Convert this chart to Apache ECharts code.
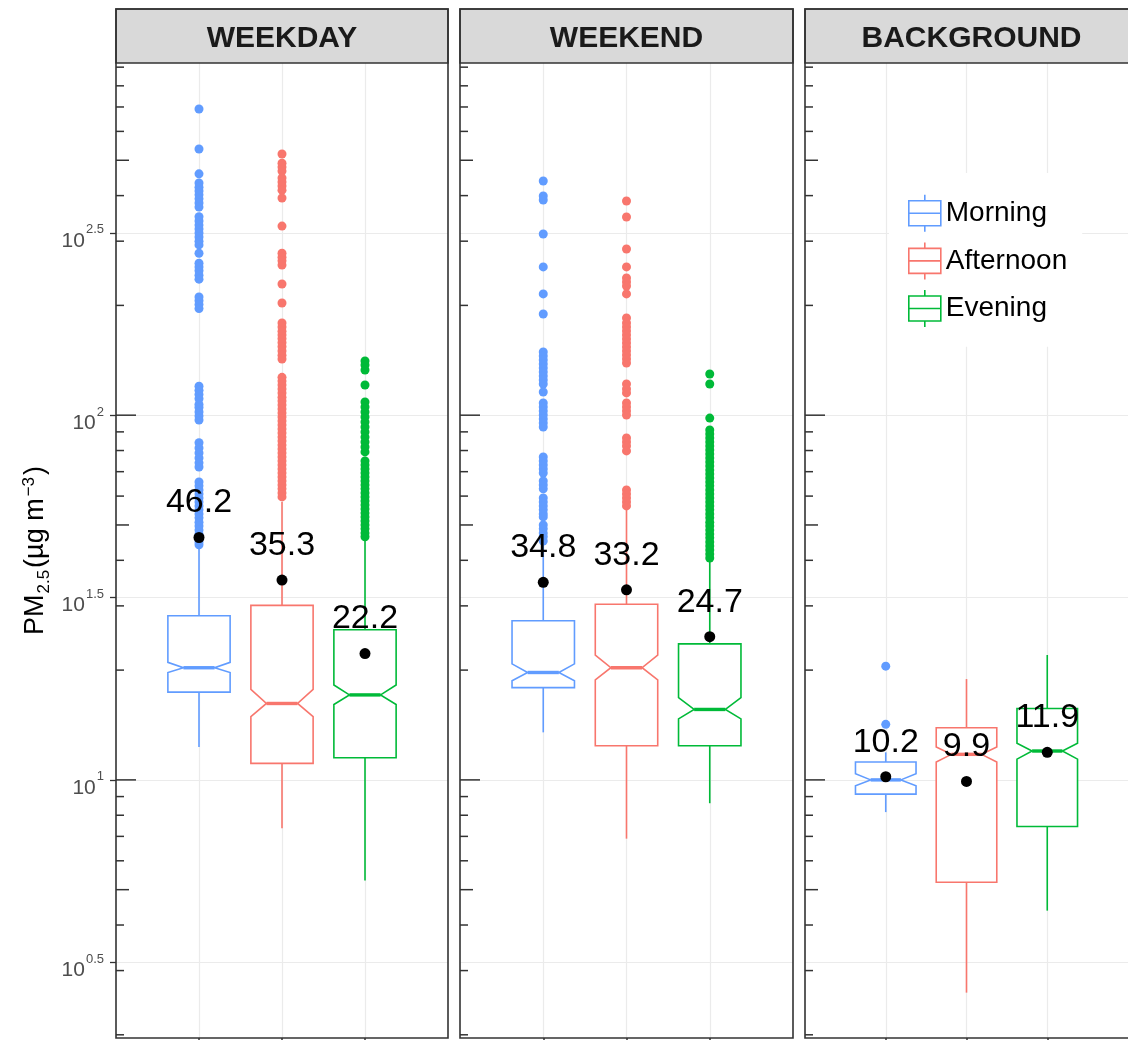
<!DOCTYPE html>
<html>
<head>
<meta charset="utf-8">
<script src="https://cdn.jsdelivr.net/npm/echarts@6/dist/echarts.min.js"></script>
<style>
  html, body { margin: 0; padding: 0; background: #ffffff; }
  #chart { width: 1128px; height: 1040px; }
</style>
</head>
<body>
<div id="chart"></div>
<script>
// ---- data -------------------------------------------------------------
const panels = ['WEEKDAY', 'WEEKEND', 'BACKGROUND'];
const periods = ['Morning', 'Afternoon', 'Evening'];

// Box statistics, PM2.5 in µg m-3:
// [lower whisker, Q1, notch low, median, notch high, Q3, upper whisker]
const weekdayBoxes = [
  [12.3, 17.4, 19.7, 20.3, 21.0, 28.2, 43.3],
  [7.37, 11.1, 14.9, 16.2, 17.7, 30.1, 57.8],
  [5.30, 11.5, 16.1, 17.1, 18.2, 25.8, 45.5]
];
const weekendBoxes = [
  [13.5, 17.9, 18.7, 19.7, 20.8, 27.3, 44.1],
  [6.90, 12.4, 18.8, 20.3, 22.0, 30.3, 55.7],
  [8.63, 12.4, 14.7, 15.6, 16.8, 23.6, 39.6]
];
const backgroundBoxes = [
  [8.16, 9.14, 9.63, 10.0, 10.4, 11.2, 11.9],
  [2.61, 5.24, 11.2, 11.75, 12.3, 13.9, 18.9],
  [4.38, 7.45, 11.4, 12.0, 12.6, 15.7, 22.0]
];

// Mean concentrations per period
const weekdayMeans = [46.2, 35.3, 22.2];
const weekendMeans = [34.8, 33.2, 24.7];
const backgroundMeans = [10.2, 9.9, 11.9];

// Outlying observations
const weekdayMorningOutliers = [691, 537, 459, 433, 422, 412, 402, 392, 382, 372, 350, 341, 332, 324, 316,
  308, 300, 293, 278, 261, 255, 249, 242, 236, 211, 206, 201, 196, 120, 117, 114, 111, 107, 105, 102, 99.5,
  97, 84, 81.3, 78.8, 76.3, 74, 72.1, 65.6, 64, 62.4, 60.8, 59.3, 57.8, 56.4, 55, 53.6, 52.3, 50.9, 49.7,
  48.4, 47.2, 46.1, 44.9, 44.1];
const weekdayAfternoonOutliers = [520, 491, 479, 467, 447, 436, 425, 414, 394, 330, 278, 271, 265, 258, 229,
  203, 179, 174.5, 170, 166, 162, 158, 154, 150, 146, 142.6, 127, 124, 121, 118, 115, 112, 109.4, 106.7,
  104, 101.4, 98.9, 96.4, 94, 91.7, 89.4, 87.1, 85, 82.8, 80.8, 78.8, 76.8, 74.9, 73, 71.2, 69.4, 67.7, 66,
  64.4, 62.8, 61.2, 59.7];
const weekdayEveningOutliers = [140.8, 137.3, 133, 121, 108.7, 105.3, 102, 98.9, 95.8, 92.8, 89.9, 87.1,
  84.4, 81.8, 79.3, 74.9, 73, 71.2, 69.4, 67.7, 66, 64.4, 62.8, 61.2, 59.7, 58.2, 56.7, 55.3, 53.9, 52.6,
  51.3, 50, 48.8, 47.5, 46.4];
const weekendMorningOutliers = [438.5, 399, 389, 314, 255, 215, 189.4, 149, 145.3, 141.7, 138.2, 134.7,
  131.4, 128.1, 124.9, 121.8, 115.8, 108, 105.3, 102.7, 100.1, 97.6, 95.2, 92.8, 76.8, 74.9, 73, 71.2,
  69.4, 66, 64.4, 62.8, 59.3, 57.8, 56.4, 55, 53.6, 52.6, 50, 48.8, 47.5, 46.4, 45.2];
const weekendAfternoonOutliers = [386.7, 349.5, 285.5, 255, 237.8, 231.9, 226.1, 215, 184.7, 178.9, 174.5,
  170.2, 165.9, 161.8, 157.8, 153.8, 150, 146.2, 142.6, 139, 121.8, 118, 115.1, 108, 105.3, 102.7, 100.1,
  86.6, 84.4, 82.3, 79.8, 62.4, 60.8, 59.3, 57.8, 56.4];
const weekendEveningOutliers = [129.7, 121.8, 98.2, 91.1, 88.8, 86.6, 84.4, 82.3, 80.3, 78.3, 76.3, 74.4,
  72.6, 70.7, 69, 67.3, 65.6, 64, 62.4, 60.8, 59.3, 57.8, 56.4, 55, 53.6, 52.3, 50.9, 49.7, 48.4, 47.2,
  46.1, 44.9, 43.8, 42.7, 41.6, 40.6];
const backgroundMorningOutliers = [20.5, 14.2];
const backgroundAfternoonOutliers = [];
const backgroundEveningOutliers = [];

// Labelled y positions (powers of ten) and log tick marks
const yTickExponents = [0.5, 1, 1.5, 2, 2.5];
const logTickValues = [2, 3, 4, 5, 6, 7, 8, 9, 10, 20, 30, 40, 50, 60, 70, 80, 90,
  100, 200, 300, 400, 500, 600, 700, 800, 900];

// ---- styling ----------------------------------------------------------
const FONT = "'Liberation Sans', Arial, Helvetica, sans-serif";
const periodColors = ['#619CFF', '#F8766D', '#00BA38'];
const BOX_WIDTH = 0.75;       // in category units
const NOTCH_INSET = 0.25;     // fraction of box width
const Y_MIN = 1.96, Y_MAX = 924;
const panelLeft = [116, 460, 805];
const panelWidth = [332, 333, 333];
const PLOT_TOP = 63, PLOT_BOTTOM = 1038, STRIP_TOP = 9;

const allBoxes = [weekdayBoxes, weekendBoxes, backgroundBoxes];
const allMeans = [weekdayMeans, weekendMeans, backgroundMeans];
const allOutliers = [
  [weekdayMorningOutliers, weekdayAfternoonOutliers, weekdayEveningOutliers],
  [weekendMorningOutliers, weekendAfternoonOutliers, weekendEveningOutliers],
  [backgroundMorningOutliers, backgroundAfternoonOutliers, backgroundEveningOutliers]
];
const yTickValues = yTickExponents.map(e => Math.pow(10, e));

// Notched box with whiskers, drawn through the panel's axes
function renderBox(params, api) {
  const x = api.value(0);
  const lo = api.value(1), q1 = api.value(2), nLo = api.value(3), med = api.value(4),
        nHi = api.value(5), q3 = api.value(6), hi = api.value(7);
  const y = v => api.coord([x, v])[1];
  const L = api.coord([x - BOX_WIDTH / 2, q3])[0];
  const R = api.coord([x + BOX_WIDTH / 2, q3])[0];
  const C = api.coord([x, q3])[0];
  const inset = (R - L) * NOTCH_INSET;
  const color = api.visual('color');
  const lw = 1.6;
  const pts = [
    [L, y(q3)], [R, y(q3)], [R, y(nHi)], [R - inset, y(med)], [R, y(nLo)],
    [R, y(q1)], [L, y(q1)], [L, y(nLo)], [L + inset, y(med)], [L, y(nHi)]
  ];
  return {
    type: 'group',
    children: [
      { type: 'line', shape: { x1: C, y1: y(q3), x2: C, y2: y(hi) }, style: { stroke: color, lineWidth: lw } },
      { type: 'line', shape: { x1: C, y1: y(q1), x2: C, y2: y(lo) }, style: { stroke: color, lineWidth: lw } },
      { type: 'polygon', shape: { points: pts }, style: { fill: '#ffffff', stroke: color, lineWidth: lw } },
      { type: 'line', shape: { x1: L + inset, y1: y(med), x2: R - inset, y2: y(med) },
        style: { stroke: color, lineWidth: 3.4 } }
    ]
  };
}

// Log tick marks along the inner left edge of a panel
function renderLogTick(params, api) {
  const v = api.value(1);
  const p = api.coord([0, v]);
  const e = Math.log10(v);
  const lead = Math.round(v / Math.pow(10, Math.floor(e + 1e-9)));
  const len = lead === 1 ? 20 : (lead === 5 ? 13 : 8);
  return {
    type: 'line',
    shape: { x1: p[0], y1: p[1], x2: p[0] + len, y2: p[1] },
    style: { stroke: '#333333', lineWidth: 1.5 }
  };
}

const grids = [], xAxes = [], yAxes = [], series = [], graphics = [];

panels.forEach((panel, pi) => {
  grids.push({
    left: panelLeft[pi], top: PLOT_TOP, width: panelWidth[pi], height: PLOT_BOTTOM - PLOT_TOP,
    show: true, backgroundColor: '#ffffff', borderWidth: 0
  });
  xAxes.push({
    type: 'value', gridIndex: pi, min: 0, max: 4, interval: 1,
    axisLine: { show: false },
    axisLabel: { show: false },
    axisTick: { show: true, customValues: [1, 2, 3], length: 4, lineStyle: { color: '#333333', width: 1.5 } },
    splitLine: { show: true, lineStyle: { color: '#EBEBEB', width: 1.2 } }
  });
  const yAxis = {
    type: 'log', logBase: 10, gridIndex: pi, min: Y_MIN, max: Y_MAX,
    axisLine: { show: false },
    axisTick: { show: pi === 0, customValues: yTickValues, length: 6, lineStyle: { color: '#333333', width: 1.3 } },
    axisLabel: {
      show: pi === 0, customValues: yTickValues, margin: 12,
      padding: [16, 0, 0, 0],
      formatter: v => {
        const e = Math.round(Math.log10(v) * 2) / 2;
        return '{b|10}{s|' + e + '}';
      },
      rich: {
        b: { fontFamily: FONT, fontSize: 21, lineHeight: 21, color: '#4D4D4D', padding: [16, 0, 0, 0], verticalAlign: 'bottom' },
        s: { fontFamily: FONT, fontSize: 13, lineHeight: 13, color: '#4D4D4D', padding: [0, 0, 15, 1], verticalAlign: 'bottom' }
      }
    },
    splitLine: { show: true, lineStyle: { color: '#EBEBEB', width: 1.2 } }
  };
  if (pi === 0) {
    yAxis.name = '{a|PM}{b|2.5}{a|(µg m}{c|\u22123}{a|)}';
    yAxis.nameLocation = 'middle';
    yAxis.nameGap = 63;
    yAxis.nameTextStyle = {
      rich: {
        a: { fontFamily: FONT, fontSize: 27, lineHeight: 32, color: '#000000', verticalAlign: 'bottom', padding: [0, 1, 4, 1] },
        b: { fontFamily: FONT, fontSize: 17, lineHeight: 17, color: '#000000', verticalAlign: 'bottom', padding: [0, 1, 0, 0] },
        c: { fontFamily: FONT, fontSize: 17, lineHeight: 17, color: '#000000', verticalAlign: 'top', padding: [0, 1, 0, 1] }
      }
    };
  }
  yAxes.push(yAxis);

  // boxes
  periods.forEach((period, k) => {
    series.push({
      type: 'custom', name: period, xAxisIndex: pi, yAxisIndex: pi, z: 2,
      renderItem: renderBox,
      itemStyle: { color: periodColors[k] },
      encode: { x: 0, y: [1, 2, 3, 4, 5, 6, 7] },
      data: [[k + 1].concat(allBoxes[pi][k])]
    });
  });
  // outliers
  periods.forEach((period, k) => {
    series.push({
      type: 'scatter', name: period, xAxisIndex: pi, yAxisIndex: pi, z: 3,
      symbol: 'circle', symbolSize: 9,
      itemStyle: { color: periodColors[k], opacity: 1 },
      data: allOutliers[pi][k].map(v => [k + 1, v])
    });
  });
  // log tick marks
  series.push({
    type: 'custom', name: 'logticks', xAxisIndex: pi, yAxisIndex: pi, z: 4, silent: true,
    renderItem: renderLogTick,
    encode: { x: 0, y: 1 },
    data: logTickValues.map(v => [0, v])
  });
  // means with value labels
  series.push({
    type: 'scatter', name: 'mean', xAxisIndex: pi, yAxisIndex: pi, z: 6,
    symbol: 'circle', symbolSize: 11,
    itemStyle: { color: '#000000', opacity: 1 },
    label: {
      show: true, position: 'top', distance: 12,
      formatter: p => p.value[1].toFixed(1),
      fontFamily: FONT, fontSize: 34, lineHeight: 34, color: '#000000'
    },
    data: allMeans[pi].map((v, k) => [k + 1, v])
  });

  // facet strip and panel frame
  graphics.push({
    type: 'rect', z: 100,
    shape: { x: panelLeft[pi], y: STRIP_TOP, width: panelWidth[pi], height: PLOT_TOP - STRIP_TOP },
    style: { fill: '#D9D9D9', stroke: '#333333', lineWidth: 1.6 }
  });
  graphics.push({
    type: 'text', z: 101,
    x: panelLeft[pi] + panelWidth[pi] / 2, y: (STRIP_TOP + PLOT_TOP) / 2 + 3,
    style: {
      text: panel, fontFamily: FONT, fontWeight: 'bold', fontSize: 30, fill: '#1A1A1A',
      textAlign: 'center', textVerticalAlign: 'middle'
    }
  });
  graphics.push({
    type: 'rect', z: 100,
    shape: { x: panelLeft[pi], y: STRIP_TOP, width: panelWidth[pi], height: PLOT_BOTTOM - STRIP_TOP },
    style: { fill: 'none', stroke: '#333333', lineWidth: 1.6 }
  });
});

const BOX_ICON = 'path://M16,0L16,6M0,6L32,6L32,31L0,31ZM0,18.5L32,18.5M16,31L16,37';

const option = {
  animation: false,
  backgroundColor: '#ffffff',
  grid: grids,
  xAxis: xAxes,
  yAxis: yAxes,
  legend: {
    orient: 'vertical', left: 889, top: 173,
    backgroundColor: '#ffffff',
    padding: [21, 15, 19, 19],
    itemGap: 9, itemWidth: 32, itemHeight: 37,
    selectedMode: false,
    textStyle: { fontFamily: FONT, fontSize: 28, color: '#000000' },
    data: periods.map((p, k) => ({
      name: p, icon: BOX_ICON,
      itemStyle: { color: 'rgba(255,255,255,0)', borderColor: periodColors[k], borderWidth: 1.6 }
    }))
  },
  graphic: graphics,
  series: series
};

const chart = echarts.init(document.getElementById('chart'), null, { renderer: 'canvas' });
chart.setOption(option);
</script>
</body>
</html>
